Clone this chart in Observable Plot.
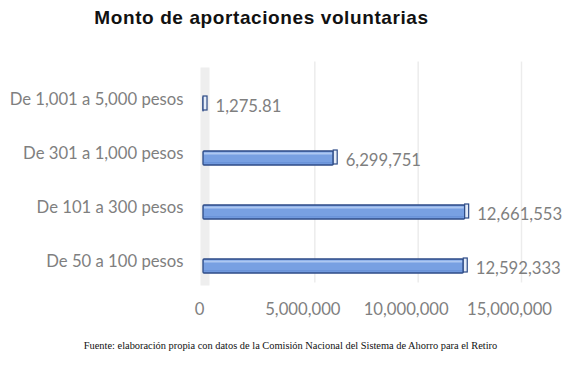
<!DOCTYPE html>
<html>
<head>
<meta charset="utf-8">
<script src="https://cdn.jsdelivr.net/npm/d3@7"></script>
<script src="https://cdn.jsdelivr.net/npm/@observablehq/plot@0.6"></script>
<style>
  html, body { margin: 0; padding: 0; background: #fff; }
  #wrap { width: 581px; height: 365px; position: relative; overflow: hidden; }
  #title { position: absolute; left: 0; top: 7px; width: 523px; text-align: center;
    font: bold 19px "Liberation Sans", Arial, sans-serif; letter-spacing: 0.6px; color: #111; }
  #chart { position: absolute; left: 0; top: 40px; }
  #caption { position: absolute; left: 0; top: 340px; width: 581px; text-align: center;
    font: 10.4px "Liberation Serif", "Times New Roman", serif; color: #111; }
</style>
</head>
<body>
<div id="wrap">
  <div id="title">Monto de aportaciones voluntarias</div>
  <div id="chart"></div>
  <div id="caption">Fuente: elaboración propia con datos de la Comisión Nacional del Sistema de Ahorro para el Retiro</div>
</div>
<script>
const categories = ["De 1,001 a 5,000 pesos", "De 301 a 1,000 pesos", "De 101 a 300 pesos", "De 50 a 100 pesos"];
const values = [1275.81, 6299751, 12661553, 12592333];
const xTicks = [0, 5000000, 10000000, 15000000];
const gridTicks = [5000000, 10000000, 15000000];

const data = categories.map((c, i) => ({category: c, value: values[i]}));
const fmt = d3.format(",");
const font = "Lato, 'Open Sans', sans-serif";
const edge = "#2c4a86";
const fs = 16.7;

const plot = Plot.plot({
  width: 581,
  height: 285,
  marginLeft: 203,
  marginRight: 68,
  marginTop: 35.6,
  marginBottom: 30.5,
  style: {fontFamily: font, fontSize: fs + "px", color: "#7f7f7f", background: "transparent"},
  x: {domain: [0, 15000000], ticks: xTicks, tickFormat: fmt, label: null},
  y: {domain: categories, padding: 0, label: null},
  marks: [
    Plot.ruleX([0], {stroke: "#eeeeee", strokeWidth: 9, dx: 1.5, insetTop: -8, insetBottom: 9}),
    Plot.ruleX(gridTicks, {stroke: "#ececec", strokeWidth: 1.5, dx: 8, insetTop: -14, insetBottom: 12}),
    Plot.axisX({ticks: xTicks, tickFormat: fmt, tickSize: 0, tickPadding: 8, dx: -4, fontSize: fs, fill: "#7f7f7f"}),
    Plot.axisY({tickSize: 0, tickPadding: 20, dy: -5, fontSize: fs, fill: "#7f7f7f"}),
    Plot.barX(data, {x: "value", y: "category", fill: "#78a0e2", stroke: edge, strokeWidth: 1.3, insetTop: 20, insetBottom: 20, rx: 1}),
    Plot.barX(data, {x: "value", y: "category", fill: "#aec8f1", insetTop: 21.5, insetBottom: 30.5, insetLeft: 1, insetRight: 1}),
    Plot.barX(data, {x: "value", y: "category", fill: "#5b86d0", insetTop: 31, insetBottom: 21.5, insetLeft: 1, insetRight: 1, fillOpacity: 0.5}),
    Plot.barX(data, {x1: "value", x2: "value", y: "category", fill: "#e4ecf8", stroke: edge, strokeWidth: 1.2, insetRight: -4, insetTop: 19, insetBottom: 21}),
    Plot.text(data, {x: "value", y: "category", text: d => fmt(d.value), textAnchor: "start", dx: 12, dy: 2, fill: "#7f7f7f", fontSize: fs})
  ]
});
document.getElementById("chart").appendChild(plot);
</script>
</body>
</html>
